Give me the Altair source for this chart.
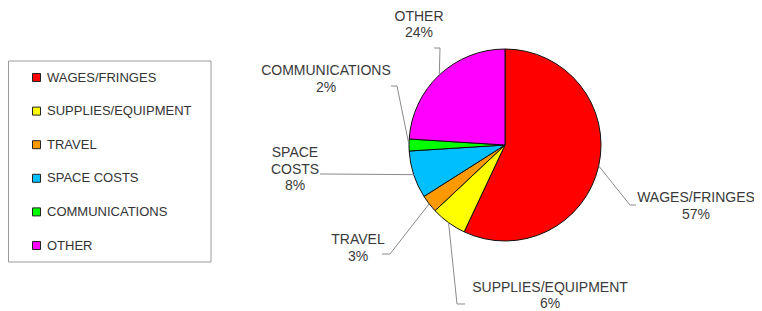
import math
import altair as alt
import pandas as pd

# ---- data ----
categories = ["WAGES/FRINGES", "SUPPLIES/EQUIPMENT", "TRAVEL", "SPACE COSTS", "COMMUNICATIONS", "OTHER"]
shares = [57, 6, 3, 8, 2, 24]
label_names = ["WAGES/FRINGES", "SUPPLIES/EQUIPMENT", "TRAVEL", "SPACE\nCOSTS", "COMMUNICATIONS", "OTHER"]
colors = ["#FF0000", "#FFFF00", "#FF9900", "#00BFFF", "#00FF00", "#FF00FF"]

# ---- layout (pixels in chart space; y = middle of first text line) ----
W, H = 746, 303
CX, CY, R = 497, 137, 96
label_pos = [(688, 190), (542, 279.5), (350, 232), (287, 145), (318, 63), (411, 8.5)]
leader_bends = [((622, 197), (628, 197)), ((449, 296), (457, 296)), ((382, 246), (374, 246)),
                ((318, 166), (312, 166)), ((389, 78), (383, 78)), ((432, 40), (426, 40))]

total = sum(shares)
pie_df = pd.DataFrame({"category": categories, "value": shares, "idx": list(range(len(shares)))})

lab_rows, line_rows = [], []
cum = 0
for i, (c, v) in enumerate(zip(categories, shares)):
    a = 2 * math.pi * (cum + v / 2) / total
    cum += v
    ex, ey = CX + R * math.sin(a), CY - R * math.cos(a)
    pct = f"{round(v / total * 100)}%"
    lab_rows.append({"category": c, "label": f"{label_names[i]}\n{pct}",
                     "px": label_pos[i][0], "py": label_pos[i][1]})
    pts = [(ex, ey), leader_bends[i][0], leader_bends[i][1]]
    for s, (x, y) in enumerate(pts):
        line_rows.append({"category": c, "step": s, "px": x, "py": y})

lab_df = pd.DataFrame(lab_rows)
line_df = pd.DataFrame(line_rows)

box = alt.Chart(pd.DataFrame({"k": [0]})).mark_rect(
    fill="white", stroke="#9a9a9a", strokeWidth=1
).encode(x=alt.value(0.5), x2=alt.value(203), y=alt.value(53), y2=alt.value(254))

pie = alt.Chart(pie_df).mark_arc(outerRadius=R, stroke="#111111", strokeWidth=1).encode(
    theta=alt.Theta("value:Q", stack=True),
    color=alt.Color(
        "category:N",
        sort=categories,
        scale=alt.Scale(domain=categories, range=colors),
        legend=alt.Legend(
            title=None, orient="none", legendX=22, legendY=63,
            symbolType="square", symbolSize=64, symbolStrokeColor="#222222", symbolStrokeWidth=1,
            labelFont="Liberation Sans", labelFontSize=13, labelColor="#333333",
            labelOffset=4, rowPadding=19.6, padding=0, labelLimit=300,
        ),
    ),
    order=alt.Order("idx:Q"),
    x=alt.value(CX),
    y=alt.value(CY),
)

leaders = alt.Chart(line_df).mark_line(color="#8a8a8a", strokeWidth=1).encode(
    x=alt.X("px:Q", scale=None),
    y=alt.Y("py:Q", scale=None),
    detail="category:N",
    order="step:Q",
)

labels = alt.Chart(lab_df).mark_text(
    align="center", baseline="middle", lineBreak="\n", lineHeight=16.5,
    font="Liberation Sans", fontSize=14, color="#3a3a3a",
).encode(
    x=alt.X("px:Q", scale=None),
    y=alt.Y("py:Q", scale=None),
    text="label:N",
)

chart = alt.layer(box, pie, leaders, labels).properties(
    width=W, height=H, padding=0, autosize=alt.AutoSizeParams(type="none"),
    background="white",
).configure_view(stroke=None)

chart.save("out.html", embed_options={"renderer": "svg", "actions": False})
